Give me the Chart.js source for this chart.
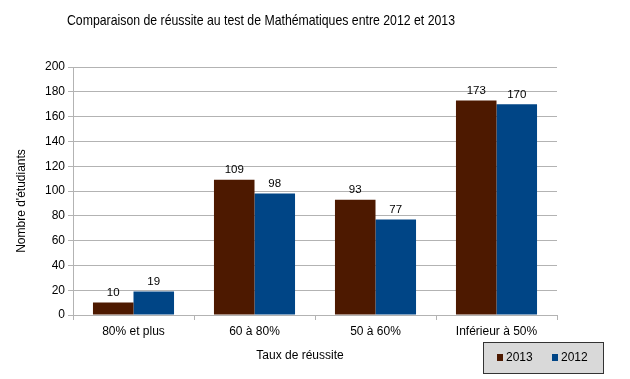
<!DOCTYPE html>
<html>
<head>
<meta charset="utf-8">
<script src="https://cdn.jsdelivr.net/npm/chart.js@4"></script>
<style>
  html, body { margin: 0; padding: 0; background: #fff; }
  #wrap { width: 630px; height: 379px; }
</style>
</head>
<body>
<div id="wrap"><canvas id="chart" width="630" height="379"></canvas></div>
<script>
const categories = ['80% et plus', '60 à 80%', '50 à 60%', 'Inférieur à 50%'];
const values2013 = [10, 109, 93, 173];
const values2012 = [19, 98, 77, 170];
const seriesNames = ['2013', '2012'];
const chartTitle = 'Comparaison de réussite au test de Mathématiques entre 2012 et 2013';
const xTitle = 'Taux de réussite';
const yTitle = "Nombre d'étudiants";

const FONT = "'Liberation Sans', Arial, sans-serif";

// title and axis titles, placed where the original has them
const titles = {
  id: 'titles',
  afterDraw(chart) {
    const ctx = chart.ctx;
    ctx.save();
    ctx.fillStyle = '#000';
    ctx.textAlign = 'center';
    ctx.textBaseline = 'middle';

    ctx.font = '15px ' + FONT;
    const w = ctx.measureText(chartTitle).width;
    ctx.save();
    ctx.translate(261, 21);
    ctx.scale(388 / w, 1);
    ctx.fillText(chartTitle, 0, 0);
    ctx.restore();

    ctx.font = '12px ' + FONT;
    ctx.fillText(xTitle, 300, 356);

    ctx.translate(22, 201);
    ctx.rotate(-Math.PI / 2);
    ctx.fillText(yTitle, 0, 0);
    ctx.restore();
  }
};

// value labels above each bar
const barLabels = {
  id: 'barLabels',
  afterDatasetsDraw(chart) {
    const ctx = chart.ctx;
    ctx.save();
    ctx.font = '11.5px ' + FONT;
    ctx.fillStyle = '#000';
    ctx.textAlign = 'center';
    ctx.textBaseline = 'bottom';
    chart.data.datasets.forEach((ds, i) => {
      chart.getDatasetMeta(i).data.forEach((bar, j) => {
        ctx.fillText(ds.data[j], bar.x, bar.y - 4);
      });
    });
    ctx.restore();
  }
};

// boxed legend in the bottom right corner
const boxLegend = {
  id: 'boxLegend',
  afterDraw(chart) {
    const ctx = chart.ctx;
    const x = 483, y = 342, w = 120, h = 31;
    ctx.save();
    ctx.fillStyle = '#d9d9d9';
    ctx.fillRect(x, y, w, h);
    ctx.strokeStyle = '#333';
    ctx.lineWidth = 1;
    ctx.strokeRect(x + 0.5, y + 0.5, w, h);
    ctx.font = '12px ' + FONT;
    ctx.textBaseline = 'middle';
    ctx.textAlign = 'left';
    chart.data.datasets.forEach((ds, i) => {
      const lx = x + 14 + i * 55;
      ctx.fillStyle = ds.backgroundColor;
      ctx.fillRect(lx, y + 12, 6, 7);
      ctx.fillStyle = '#000';
      ctx.fillText(ds.label, lx + 9, y + 16);
    });
    ctx.restore();
  }
};

new Chart(document.getElementById('chart'), {
  type: 'bar',
  data: {
    labels: categories,
    datasets: [
      { label: seriesNames[0], data: values2013, backgroundColor: '#4d1900' },
      { label: seriesNames[1], data: values2012, backgroundColor: '#004586' }
    ]
  },
  options: {
    responsive: false,
    animation: false,
    layout: { padding: { left: 0, right: 73, top: 67, bottom: 14 } },
    datasets: { bar: { categoryPercentage: 0.67, barPercentage: 1.0 } },
    plugins: {
      legend: { display: false },
      tooltip: { enabled: false },
      title: { display: false }
    },
    scales: {
      x: {
        grid: { display: true, drawOnChartArea: false, color: '#b3b3b3', tickLength: 5 },
        border: { color: '#b3b3b3' },
        ticks: { color: '#000', font: { family: FONT, size: 12 }, padding: 4 },
        afterFit(axis) { axis.height = 50; }
      },
      y: {
        min: 0,
        max: 200,
        ticks: { stepSize: 20, color: '#000', font: { family: FONT, size: 12 }, padding: 3 },
        grid: { color: '#b3b3b3', tickLength: 5 },
        border: { color: '#b3b3b3' },
        afterFit(axis) { axis.width = 73; }
      }
    }
  },
  plugins: [barLabels, boxLegend, titles]
});
</script>
</body>
</html>
